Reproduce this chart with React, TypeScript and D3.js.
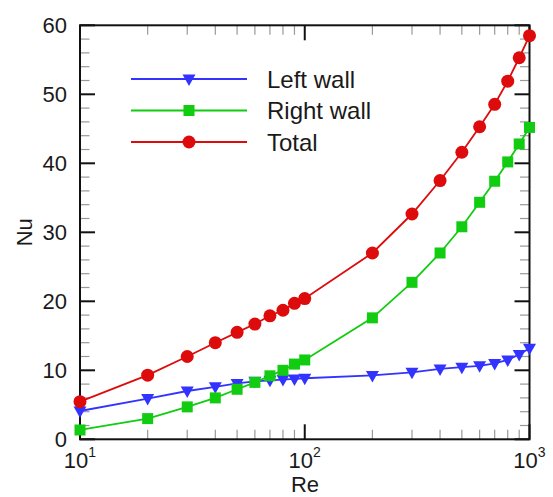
import React from "react";
import * as d3 from "d3";

// Reynolds numbers and Nusselt numbers for each wall
const reValues = [10, 20, 30, 40, 50, 60, 70, 80, 90, 100, 200, 300, 400, 500, 600, 700, 800, 900, 1000];
const leftWall = [4.1, 5.9, 7.0, 7.6, 8.1, 8.4, 8.55, 8.65, 8.75, 8.85, 9.25, 9.7, 10.2, 10.45, 10.65, 11.0, 11.5, 12.3, 13.2];
const rightWall = [1.35, 3.0, 4.7, 6.0, 7.25, 8.25, 9.2, 10.0, 10.9, 11.5, 17.6, 22.75, 27.0, 30.8, 34.35, 37.4, 40.2, 42.8, 45.2];
const totalNu = [5.45, 9.3, 12.0, 14.0, 15.5, 16.7, 17.9, 18.7, 19.7, 20.4, 27.0, 32.65, 37.5, 41.6, 45.3, 48.55, 51.9, 55.3, 58.5];

const yTicks = [0, 10, 20, 30, 40, 50, 60];
const xDecades = [1, 2, 3];
const seriesNames = ["Left wall", "Right wall", "Total"];

const W = 553;
const H = 497;
const FONT = "'Liberation Sans', Arial, sans-serif";
const TEXT = "#1a1a1a";

const x = d3.scaleLog().domain([10, 1000]).range([80, 529.5]);
const y = d3.scaleLinear().domain([0, 60]).range([439.3, 25.3]);

type Kind = "tri" | "square" | "circle";

function Marker({ kind, cx, cy, color }: { kind: Kind; cx: number; cy: number; color: string }) {
  if (kind === "circle") return <circle cx={cx} cy={cy} r={6.5} fill={color} />;
  if (kind === "square") return <rect x={cx - 5.5} y={cy - 5.5} width={11} height={11} fill={color} />;
  const p = [
    [cx - 6.5, cy - 4.5],
    [cx + 6.5, cy - 4.5],
    [cx, cy + 7],
  ];
  return <polygon points={p.map((q) => q.join(",")).join(" ")} fill={color} />;
}

export default function App() {
  const series: { name: string; values: number[]; color: string; kind: Kind }[] = [
    { name: seriesNames[0], values: leftWall, color: "#3333ff", kind: "tri" },
    { name: seriesNames[1], values: rightWall, color: "#11cc11", kind: "square" },
    { name: seriesNames[2], values: totalNu, color: "#dd0b0b", kind: "circle" },
  ];

  const line = d3
    .line<number>()
    .x((_, i) => x(reValues[i]))
    .y((d) => y(d));

  const [x0, x1] = x.range();
  const [y0, y1] = y.range();

  // minor ticks on the log axis: 2..9 within each decade
  const minorX: number[] = [];
  for (let e = 1; e < 3; e++) {
    for (let m = 2; m <= 9; m++) minorX.push(m * Math.pow(10, e));
  }
  const minorY: number[] = d3.range(0, 61, 2).filter((v) => v % 10 !== 0);

  const majorLen = 15;
  const minorLen = 9.5;

  return (
    <svg
      width={W}
      height={H}
      style={{ position: "absolute", left: 0, top: 0, background: "#fff" }}
      fontFamily={FONT}
    >
      {/* minor ticks */}
      <g stroke="#999" strokeWidth={1.2}>
        {minorX.map((v) => (
          <g key={"mx" + v}>
            <line x1={x(v)} x2={x(v)} y1={y0} y2={y0 - minorLen} />
            <line x1={x(v)} x2={x(v)} y1={y1} y2={y1 + minorLen} />
          </g>
        ))}
        {minorY.map((v) => (
          <g key={"my" + v}>
            <line x1={x0} x2={x0 + minorLen} y1={y(v)} y2={y(v)} />
            <line x1={x1} x2={x1 - minorLen} y1={y(v)} y2={y(v)} />
          </g>
        ))}
      </g>
      {/* major ticks */}
      <g stroke="#111" strokeWidth={2}>
        {xDecades.map((e) => {
          const px = x(Math.pow(10, e));
          return (
            <g key={"Mx" + e}>
              <line x1={px} x2={px} y1={y0} y2={y0 - majorLen} />
              <line x1={px} x2={px} y1={y1} y2={y1 + majorLen} />
            </g>
          );
        })}
        {yTicks.map((v) => (
          <g key={"My" + v}>
            <line x1={x0} x2={x0 + majorLen} y1={y(v)} y2={y(v)} />
            <line x1={x1} x2={x1 - majorLen} y1={y(v)} y2={y(v)} />
          </g>
        ))}
      </g>
      <rect x={x0} y={y1} width={x1 - x0} height={y0 - y1} fill="none" stroke="#111" strokeWidth={2} />

      {/* data series */}
      {series.map((s) => (
        <g key={s.name}>
          <path d={line(s.values) || ""} fill="none" stroke={s.color} strokeWidth={1.8} />
          {s.values.map((v, i) => (
            <Marker key={i} kind={s.kind} cx={x(reValues[i])} cy={y(v)} color={s.color} />
          ))}
        </g>
      ))}

      {/* y tick labels */}
      {yTicks.map((v) => (
        <text
          key={"ly" + v}
          x={67}
          y={y(v)}
          dy="0.36em"
          textAnchor="end"
          fontSize={22}
          fill={TEXT}
        >
          {v}
        </text>
      ))}
      {/* x tick labels */}
      {xDecades.map((e) => (
        <text key={"lx" + e} x={x(Math.pow(10, e))} y={468} textAnchor="middle" fontSize={22} fill={TEXT}>
          10
          <tspan fontSize={14} dy={-11}>
            {e}
          </tspan>
        </text>
      ))}
      <text x={305} y={492} textAnchor="middle" fontSize={22} fill={TEXT}>
        Re
      </text>
      <text
        transform={`translate(32,${(y0 + y1) / 2}) rotate(-90)`}
        textAnchor="middle"
        fontSize={22}
        fill={TEXT}
      >
        Nu
      </text>

      {/* legend */}
      {series.map((s, i) => {
        const ly = 79 + i * 31.5;
        return (
          <g key={"lg" + s.name}>
            <line x1={131} x2={247} y1={ly} y2={ly} stroke={s.color} strokeWidth={1.8} />
            <Marker kind={s.kind} cx={189} cy={ly} color={s.color} />
            <text x={267} y={ly} dy="0.36em" fontSize={24} fill={TEXT}>
              {s.name}
            </text>
          </g>
        );
      })}
    </svg>
  );
}
